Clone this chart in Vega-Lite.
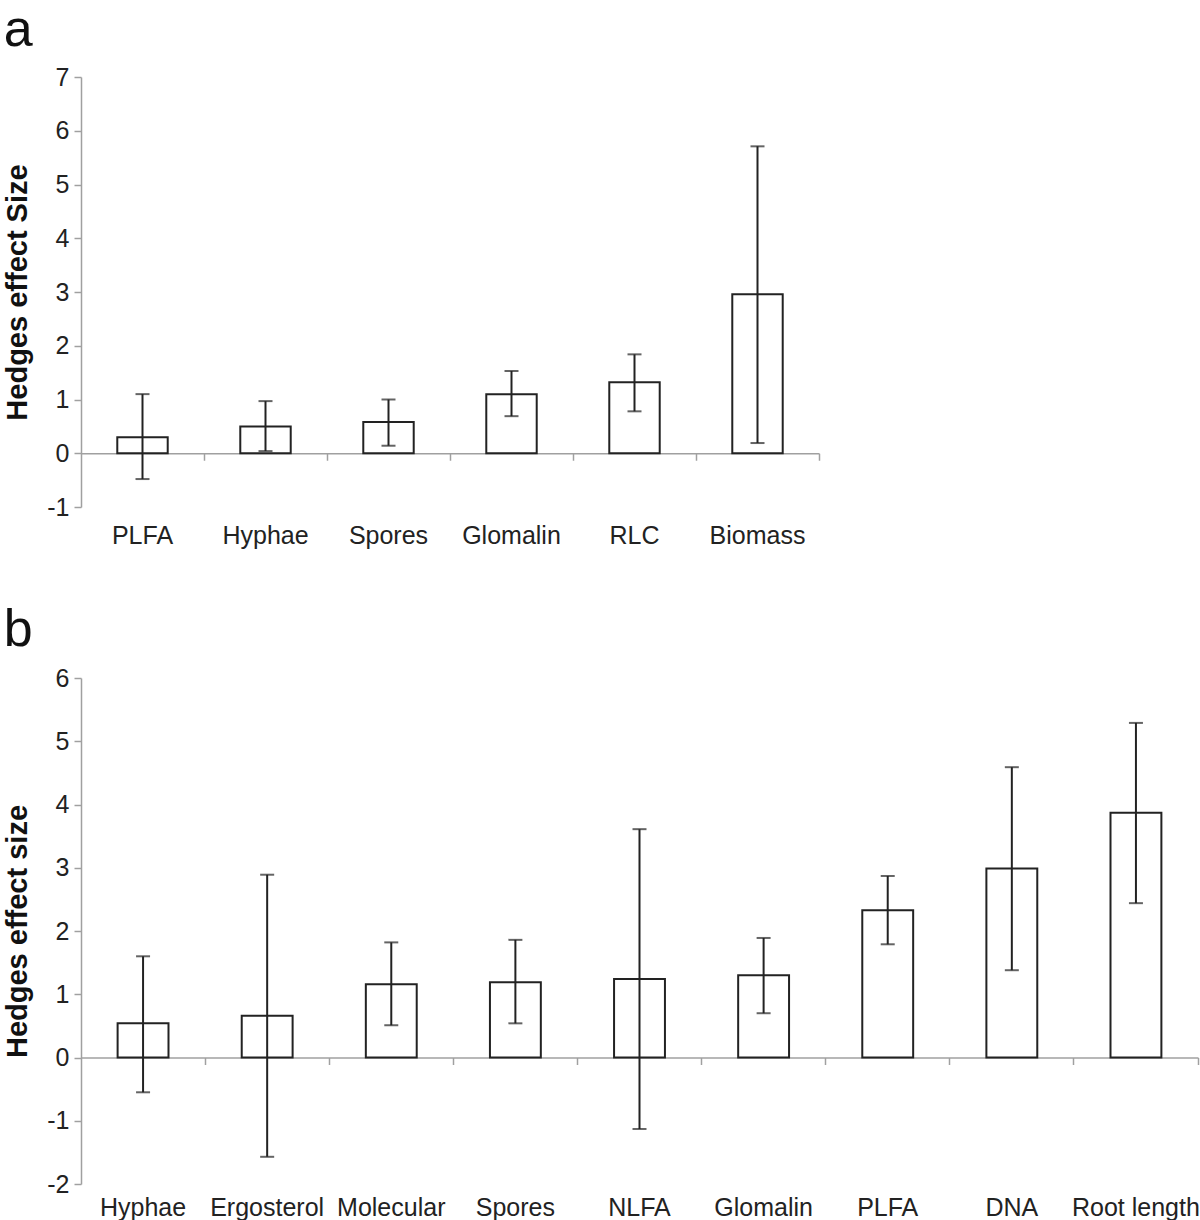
{
  "$schema": "https://vega.github.io/schema/vega-lite/v6.json",
  "background": "white",
  "padding": {"left": 3, "top": 4, "right": 3, "bottom": 2},
  "spacing": 55,
  "config": {
    "view": {"stroke": null},
    "font": "Liberation Sans",
    "axis": {
      "labelFont": "Liberation Sans",
      "labelFontSize": 25,
      "labelColor": "#222222",
      "domainColor": "#a0a0a0",
      "domainWidth": 1.5,
      "tickColor": "#a0a0a0",
      "tickWidth": 1.5,
      "tickSize": 7,
      "grid": false,
      "titleFont": "Liberation Sans",
      "titleFontSize": 29,
      "titleFontWeight": "bold",
      "titleColor": "#111111"
    },
    "title": {"font": "Liberation Sans", "fontSize": 52, "fontWeight": "normal", "color": "#111111", "anchor": "start", "frame": "bounds"}
  },
  "datasets": {
    "a": [
      {"cat": "PLFA", "mean": 0.30, "lo": -0.48, "hi": 1.10},
      {"cat": "Hyphae", "mean": 0.50, "lo": 0.04, "hi": 0.97},
      {"cat": "Spores", "mean": 0.58, "lo": 0.14, "hi": 1.00},
      {"cat": "Glomalin", "mean": 1.10, "lo": 0.69, "hi": 1.53},
      {"cat": "RLC", "mean": 1.32, "lo": 0.78, "hi": 1.84},
      {"cat": "Biomass", "mean": 2.96, "lo": 0.19, "hi": 5.71}
    ],
    "b": [
      {"cat": "Hyphae", "mean": 0.54, "lo": -0.55, "hi": 1.60},
      {"cat": "Ergosterol", "mean": 0.66, "lo": -1.57, "hi": 2.89},
      {"cat": "Molecular", "mean": 1.16, "lo": 0.51, "hi": 1.82},
      {"cat": "Spores", "mean": 1.19, "lo": 0.54, "hi": 1.86},
      {"cat": "NLFA", "mean": 1.24, "lo": -1.13, "hi": 3.61},
      {"cat": "Glomalin", "mean": 1.30, "lo": 0.70, "hi": 1.89},
      {"cat": "PLFA", "mean": 2.33, "lo": 1.79, "hi": 2.87},
      {"cat": "DNA", "mean": 2.99, "lo": 1.38, "hi": 4.59},
      {"cat": "Root length", "mean": 3.87, "lo": 2.44, "hi": 5.29}
    ]
  },
  "vconcat": [
    {
      "title": {"text": "a", "offset": 8},
      "width": 738,
      "height": 430,
      "data": {"name": "a"},
      "encoding": {
        "x": {
          "field": "cat", "type": "nominal", "sort": null,
          "scale": {"paddingInner": 0, "paddingOuter": 0},
          "axis": {"title": null, "labelAngle": 0, "offset": -53.75, "labelPadding": 63, "bandPosition": 1}
        }
      },
      "layer": [
        {
          "mark": {"type": "bar", "fill": "white", "stroke": "#222222", "strokeWidth": 2, "width": {"band": 0.41}},
          "encoding": {
            "y": {
              "field": "mean", "type": "quantitative",
              "scale": {"domain": [-1, 7], "nice": false, "zero": false},
              "axis": {"title": "Hedges effect Size", "values": [-1, 0, 1, 2, 3, 4, 5, 6, 7], "labelExpr": "datum.value < 0 ? '-' + abs(datum.value) : '' + datum.value", "labelPadding": 5, "titlePadding": 14}
            }
          }
        },
        {
          "mark": {"type": "rule", "color": "#222222", "strokeWidth": 2},
          "encoding": {"y": {"field": "lo", "type": "quantitative"}, "y2": {"field": "hi"}}
        },
        {
          "mark": {"type": "tick", "color": "#222222", "thickness": 2, "size": 14},
          "encoding": {"y": {"field": "lo", "type": "quantitative"}}
        },
        {
          "mark": {"type": "tick", "color": "#222222", "thickness": 2, "size": 14},
          "encoding": {"y": {"field": "hi", "type": "quantitative"}}
        }
      ]
    },
    {
      "title": {"text": "b", "offset": 9},
      "width": 1117,
      "height": 506,
      "data": {"name": "b"},
      "encoding": {
        "x": {
          "field": "cat", "type": "nominal", "sort": null,
          "scale": {"paddingInner": 0, "paddingOuter": 0},
          "axis": {"title": null, "labelAngle": 0, "offset": -126.5, "labelPadding": 130.5, "bandPosition": 1}
        }
      },
      "layer": [
        {
          "mark": {"type": "bar", "fill": "white", "stroke": "#222222", "strokeWidth": 2, "width": {"band": 0.41}},
          "encoding": {
            "y": {
              "field": "mean", "type": "quantitative",
              "scale": {"domain": [-2, 6], "nice": false, "zero": false},
              "axis": {"title": "Hedges effect size", "values": [-2, -1, 0, 1, 2, 3, 4, 5, 6], "labelExpr": "datum.value < 0 ? '-' + abs(datum.value) : '' + datum.value", "labelPadding": 5, "titlePadding": 14}
            }
          }
        },
        {
          "mark": {"type": "rule", "color": "#222222", "strokeWidth": 2},
          "encoding": {"y": {"field": "lo", "type": "quantitative"}, "y2": {"field": "hi"}}
        },
        {
          "mark": {"type": "tick", "color": "#222222", "thickness": 2, "size": 14},
          "encoding": {"y": {"field": "lo", "type": "quantitative"}}
        },
        {
          "mark": {"type": "tick", "color": "#222222", "thickness": 2, "size": 14},
          "encoding": {"y": {"field": "hi", "type": "quantitative"}}
        }
      ]
    }
  ]
}
